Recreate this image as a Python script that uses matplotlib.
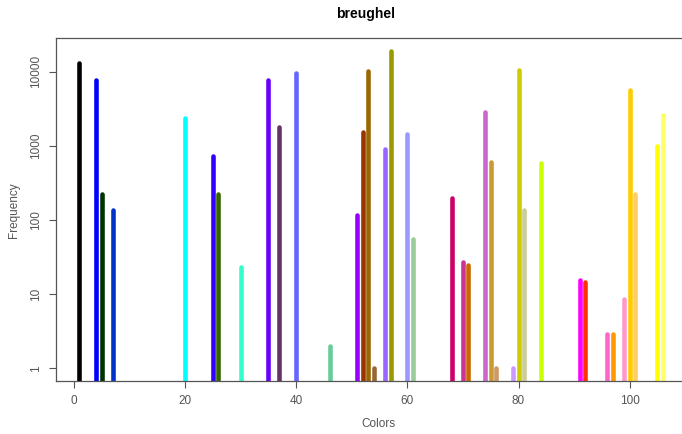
import numpy as np
import matplotlib
matplotlib.use("Agg")
import matplotlib.pyplot as plt

color_index = [1, 4, 5, 7, 20, 25, 26, 30, 35, 37, 40, 46, 51, 52, 53, 54, 56, 57, 60, 61,
               68, 70, 71, 74, 75, 76, 79, 80, 81, 84, 91, 92, 96, 97, 99, 100, 101, 105, 106]
frequency = [13200, 7850, 227, 136, 2410, 736, 227, 23.5, 7850, 1770, 9750, 2, 116, 1525,
             10200, 1, 908, 19200, 1465, 56, 200, 27, 24.5, 2900, 600, 1, 1, 10700, 136,
             580, 15.6, 14.5, 2.9, 2.9, 8.7, 5730, 227, 985, 2620]
bar_colors = ["#000000", "#0000FF", "#003300", "#0033CC", "#00FFFF", "#3300FF", "#336600",
              "#33FFCC", "#6600FF", "#663366", "#6666FF", "#66CC99", "#9900FF", "#993300",
              "#996600", "#996633", "#9966FF", "#999900", "#9999FF", "#99CC99", "#CC0066",
              "#CC3399", "#CC6600", "#CC66CC", "#CC9933", "#CC9966", "#CC99FF", "#CCCC00",
              "#CCCC99", "#CCFF00", "#FF00FF", "#FF3300", "#FF66CC", "#FF9900", "#FF99CC",
              "#FFCC00", "#FFCC66", "#FFFF00", "#FFFF66"]
x_ticks = [0, 20, 40, 60, 80, 100]
y_ticks = [1, 10, 100, 1000, 10000]

plt.rcParams['font.family'] = ['Liberation Sans', 'DejaVu Sans']

fig = plt.figure(figsize=(6.82, 4.34), dpi=100)
W, H = 682, 434
# R style: 4% expansion of data range
xmin, xmax = min(color_index), max(color_index)
xr = xmax - xmin
xlo, xhi = xmin - 0.04 * xr, xmax + 0.04 * xr
lmin, lmax = np.log10(min(frequency)), np.log10(max(frequency))
lr = lmax - lmin
ylo, yhi = 10 ** (lmin - 0.04 * lr), 10 ** (lmax + 0.04 * lr)

px_per_unit = 5.559
left_px = 56
right_px = left_px + (xhi - xlo) * px_per_unit
ax = fig.add_axes([left_px / W, (H - 381) / H, (right_px - left_px) / W, (381 - 38) / H])
ax.set_xlim(xlo, xhi)
ax.set_yscale('log')
ax.set_ylim(ylo, yhi)

for xi, v, c in zip(color_index, frequency, bar_colors):
    ax.plot([xi, xi], [ylo * 0.5, v], color=c, lw=3.3, solid_capstyle='round', clip_on=True)

ax.set_xticks(x_ticks)
ax.set_xticklabels([str(t) for t in x_ticks])
ax.set_yticks(y_ticks)
ax.set_yticklabels([str(t) for t in y_ticks], rotation=90, va='center')
ax.minorticks_off()
ax.tick_params(axis='both', colors='#555555', labelcolor='#555555', labelsize=8.5,
               length=5, width=0.8)
ax.tick_params(axis='x', pad=5)
ax.tick_params(axis='y', pad=5)
for s in ax.spines.values():
    s.set_color('#555555')
    s.set_linewidth(0.9)

fig.text(378 / W, 1 - 424 / H, "Colors", ha='center', va='center', fontsize=8.5, color='#555555')
fig.text(14 / W, 1 - 210 / H, "Frequency", ha='center', va='center', rotation=90,
         fontsize=8.5, color='#555555')
fig.text(366 / W, 1 - 14 / H, "breughel", ha='center', va='center', fontsize=10,
         fontweight='bold', color='#000000')

fig.savefig("out.png", dpi=100)
